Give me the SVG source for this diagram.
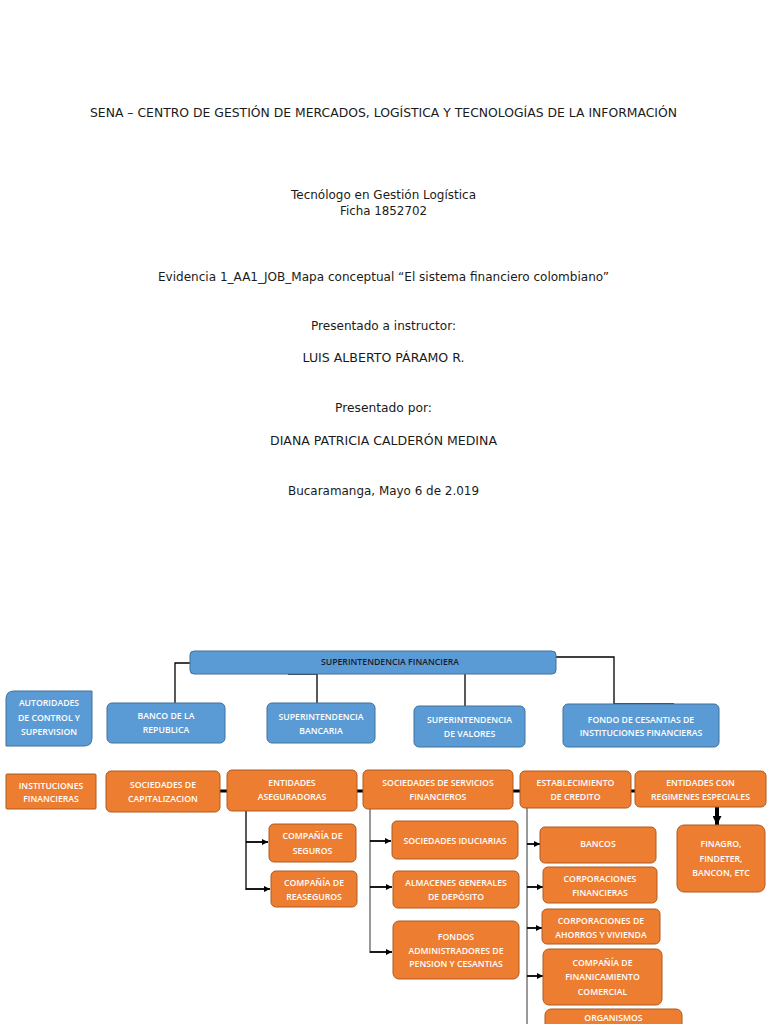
<svg xmlns="http://www.w3.org/2000/svg" width="768" height="1024" viewBox="0 0 768 1024">
<defs>
<style>
.doc{font-family:"DejaVu Sans","Liberation Sans",sans-serif;font-size:12.5px;fill:#1a1a1a;text-anchor:middle}
.b{fill:#5B9BD5;stroke:#41719C;stroke-width:1}
.o{fill:#ED7D31;stroke:#AE5A21;stroke-width:1}
.t{font-family:"Open Sans","Liberation Sans",sans-serif;font-size:8.7px;font-weight:600;fill:#ffffff;text-anchor:middle}
.td{fill:#1a1a2e}
.ln{fill:none;stroke:#000;stroke-width:1.3}
.lg{fill:none;stroke:#555;stroke-width:1.2}
.th{fill:none;stroke:#000;stroke-width:3}
.ar{fill:none;stroke:#000;stroke-width:1.8}
</style>
<marker id="ah" viewBox="0 0 10 10" refX="10" refY="5" markerWidth="6" markerHeight="6" markerUnits="userSpaceOnUse" orient="auto"><path d="M0,0 L10,5 L0,10 z" fill="#000"/></marker>
<marker id="ahb" viewBox="0 0 10 10" refX="10" refY="5" markerWidth="9" markerHeight="9" markerUnits="userSpaceOnUse" orient="auto"><path d="M0,0 L10,5 L0,10 z" fill="#000"/></marker>
</defs>
<rect width="768" height="1024" fill="#ffffff"/>

<g id="header">
<text class="doc" x="383.5" y="117" textLength="587" lengthAdjust="spacingAndGlyphs">SENA – CENTRO DE GESTIÓN DE MERCADOS, LOGÍSTICA Y TECNOLOGÍAS DE LA INFORMACIÓN</text>
<text class="doc" x="383.5" y="199" textLength="185" lengthAdjust="spacingAndGlyphs">Tecnólogo en Gestión Logística</text>
<text class="doc" x="383.5" y="215" textLength="87" lengthAdjust="spacingAndGlyphs">Ficha 1852702</text>
<text class="doc" x="383.5" y="281" textLength="451" lengthAdjust="spacingAndGlyphs">Evidencia 1_AA1_JOB_Mapa conceptual “El sistema financiero colombiano”</text>
<text class="doc" x="383.5" y="330" textLength="145" lengthAdjust="spacingAndGlyphs">Presentado a instructor:</text>
<text class="doc" x="383.5" y="362" textLength="162" lengthAdjust="spacingAndGlyphs">LUIS ALBERTO PÁRAMO R.</text>
<text class="doc" x="383.5" y="412" textLength="97" lengthAdjust="spacingAndGlyphs">Presentado por:</text>
<text class="doc" x="383.5" y="445" textLength="227" lengthAdjust="spacingAndGlyphs">DIANA PATRICIA CALDERÓN MEDINA</text>
<text class="doc" x="383.5" y="495" textLength="191" lengthAdjust="spacingAndGlyphs">Bucaramanga, Mayo 6 de 2.019</text>
</g>

<g id="connectors">
<path class="ln" d="M190,663 H175 V703"/>
<path class="ln" d="M288,674 H317 V703"/>
<path class="ln" d="M465,674 V706"/>
<path class="ln" d="M556,657 H614 V704 H674"/>
<path class="th" d="M220,791 H227"/>
<path class="th" d="M357,791 H363"/>
<path class="th" d="M513,791 H520"/>
<path class="th" d="M631,791 H635"/>
<path class="ln" d="M246,811 V890"/>
<path class="ar" d="M246,842 H268" marker-end="url(#ah)"/>
<path class="ar" d="M246,889 H270" marker-end="url(#ah)"/>
<path class="lg" d="M370,809 V953"/>
<path class="ar" d="M370,841 H391" marker-end="url(#ah)"/>
<path class="ar" d="M370,887 H392" marker-end="url(#ah)"/>
<path class="ar" d="M370,952 H392" stroke-width="3" marker-end="url(#ah)"/>
<path class="lg" d="M527,808 V1024"/>
<path class="ar" d="M527,844 H540" marker-end="url(#ah)"/>
<path class="ar" d="M527,887 H543" marker-end="url(#ah)"/>
<path class="ar" d="M527,928 H542" marker-end="url(#ah)"/>
<path class="ar" d="M527,976 H543" marker-end="url(#ah)"/>
<path d="M717,807 V825" fill="none" stroke="#000" stroke-width="4" marker-end="url(#ahb)"/>
</g>

<g id="superintendencia-financiera">
<rect class="b" x="190" y="651" width="366" height="23" rx="4"/>
<text class="t td" x="390" y="665">SUPERINTENDENCIA FINANCIERA</text>
</g>
<g id="autoridades">
<path class="b" d="M14,691 H92 V738 Q92,746 84,746 H6 V699 Q6,691 14,691 z"/>
<text class="t" x="49" y="706">AUTORIDADES</text>
<text class="t" x="49" y="721">DE CONTROL Y</text>
<text class="t" x="49" y="735">SUPERVISION</text>
</g>
<g id="banco-republica">
<rect class="b" x="107" y="703" width="118" height="40" rx="5"/>
<text class="t" x="166" y="719">BANCO DE LA</text>
<text class="t" x="166" y="733">REPUBLICA</text>
</g>
<g id="super-bancaria">
<rect class="b" x="267" y="703" width="108" height="40" rx="5"/>
<text class="t" x="321" y="720">SUPERINTENDENCIA</text>
<text class="t" x="321" y="734">BANCARIA</text>
</g>
<g id="super-valores">
<rect class="b" x="414" y="706" width="111" height="41" rx="5"/>
<text class="t" x="469.5" y="723">SUPERINTENDENCIA</text>
<text class="t" x="469.5" y="737">DE VALORES</text>
</g>
<g id="fondo-cesantias">
<rect class="b" x="563" y="704" width="156" height="43" rx="5"/>
<text class="t" x="641" y="723">FONDO DE CESANTIAS DE</text>
<text class="t" x="641" y="736">INSTITUCIONES FINANCIERAS</text>
</g>

<g id="instituciones">
<rect class="o" x="6" y="774" width="90" height="35" rx="1"/>
<text class="t" x="51" y="789">INSTITUCIONES</text>
<text class="t" x="51" y="802">FINANCIERAS</text>
</g>
<g id="soc-capitalizacion">
<rect class="o" x="106" y="771" width="114" height="41" rx="5"/>
<text class="t" x="163" y="788">SOCIEDADES DE</text>
<text class="t" x="163" y="802">CAPITALIZACION</text>
</g>
<g id="entidades-aseguradoras">
<rect class="o" x="227" y="770" width="130" height="41" rx="5"/>
<text class="t" x="292" y="786">ENTIDADES</text>
<text class="t" x="292" y="800">ASEGURADORAS</text>
</g>
<g id="soc-servicios">
<rect class="o" x="363" y="770" width="150" height="39" rx="5"/>
<text class="t" x="438" y="786">SOCIEDADES DE SERVICIOS</text>
<text class="t" x="438" y="800">FINANCIEROS</text>
</g>
<g id="establecimiento">
<rect class="o" x="520" y="771" width="111" height="37" rx="5"/>
<text class="t" x="575.5" y="786">ESTABLECIMIENTO</text>
<text class="t" x="575.5" y="800">DE CREDITO</text>
</g>
<g id="regimenes">
<rect class="o" x="635" y="771" width="131" height="36" rx="5"/>
<text class="t" x="700.5" y="786">ENTIDADES CON</text>
<text class="t" x="700.5" y="800">REGIMENES ESPECIALES</text>
</g>

<g id="seguros">
<rect class="o" x="269" y="824" width="87" height="38" rx="5"/>
<text class="t" x="312.5" y="839">COMPAÑÍA DE</text>
<text class="t" x="312.5" y="854">SEGUROS</text>
</g>
<g id="reaseguros">
<rect class="o" x="271" y="871" width="86" height="36" rx="5"/>
<text class="t" x="314" y="886">COMPAÑÍA DE</text>
<text class="t" x="314" y="900">REASEGUROS</text>
</g>
<g id="iduciarias">
<rect class="o" x="392" y="821" width="126" height="38" rx="5"/>
<text class="t" x="455" y="844">SOCIEDADES IDUCIARIAS</text>
</g>
<g id="almacenes">
<rect class="o" x="393" y="871" width="126" height="37" rx="5"/>
<text class="t" x="456" y="886">ALMACENES GENERALES</text>
<text class="t" x="456" y="900">DE DEPÓSITO</text>
</g>
<g id="fondos-pension">
<rect class="o" x="393" y="921" width="126" height="58" rx="6"/>
<text class="t" x="456" y="940">FONDOS</text>
<text class="t" x="456" y="954">ADMINISTRADORES DE</text>
<text class="t" x="456" y="967">PENSION Y CESANTIAS</text>
</g>
<g id="bancos">
<rect class="o" x="540" y="827" width="116" height="36" rx="5"/>
<text class="t" x="598" y="847">BANCOS</text>
</g>
<g id="corp-financieras">
<rect class="o" x="543" y="867" width="114" height="36" rx="5"/>
<text class="t" x="600" y="882">CORPORACIONES</text>
<text class="t" x="600" y="896">FINANCIERAS</text>
</g>
<g id="corp-ahorros">
<rect class="o" x="542" y="909" width="118" height="35" rx="5"/>
<text class="t" x="601" y="924">CORPORACIONES DE</text>
<text class="t" x="601" y="938">AHORROS Y VIVIENDA</text>
</g>
<g id="financiamiento">
<rect class="o" x="543" y="949" width="119" height="56" rx="6"/>
<text class="t" x="602.5" y="966">COMPAÑÍA DE</text>
<text class="t" x="602.5" y="980">FINANICAMIENTO</text>
<text class="t" x="602.5" y="995">COMERCIAL</text>
</g>
<g id="organismos">
<rect class="o" x="545" y="1009" width="137" height="30" rx="6"/>
<text class="t" x="613.5" y="1021">ORGANISMOS</text>
</g>
<g id="finagro">
<rect class="o" x="677" y="825" width="88" height="67" rx="7"/>
<text class="t" x="721" y="847">FINAGRO,</text>
<text class="t" x="721" y="862">FINDETER,</text>
<text class="t" x="721" y="876">BANCON, ETC</text>
</g>
</svg>
